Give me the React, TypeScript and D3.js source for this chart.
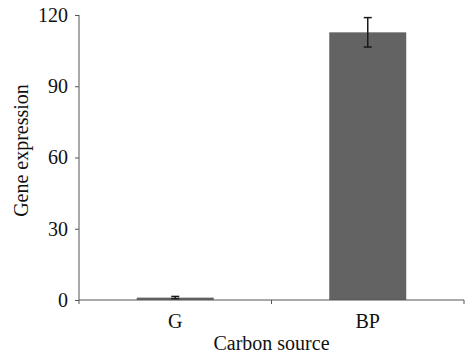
import React, { useRef, useEffect } from "react"
import * as d3 from "d3"

const categories = ["G", "BP"]
const values = [1, 112.7]
const errors = [0.5, 6.2]
const yTicks = [0, 30, 60, 90, 120]

const WIDTH = 472
const HEIGHT = 354
const MARGIN = { top: 15, right: 8, bottom: 54, left: 79 }
const FONT = "'Liberation Serif', 'Times New Roman', serif"
const FS = 20

export default function App() {
  const svgRef = useRef<SVGSVGElement>(null)

  useEffect(() => {
    const svg = svgRef.current
    if (!svg) return
    d3.select(svg).selectAll("*").remove()

    const innerW = WIDTH - MARGIN.left - MARGIN.right
    const innerH = HEIGHT - MARGIN.top - MARGIN.bottom

    const root = d3
      .select(svg)
      .append("g")
      .attr("transform", `translate(${MARGIN.left},${MARGIN.top})`)

    const x = d3.scaleBand().domain(categories).range([0, innerW]).paddingInner(0).paddingOuter(0)
    const y = d3.scaleLinear().domain([0, 120]).range([innerH, 0])
    const barW = x.bandwidth() * 0.4

    // bars
    root
      .selectAll(".bar")
      .data(categories)
      .join("rect")
      .attr("class", "bar")
      .attr("x", (d) => x(d)! + (x.bandwidth() - barW) / 2)
      .attr("y", (_, i) => y(values[i]))
      .attr("width", barW)
      .attr("height", (_, i) => innerH - y(values[i]))
      .attr("fill", "#636363")

    // error bars
    const eg = root.append("g").attr("stroke", "#1a1a1a").attr("stroke-width", 1.5)
    categories.forEach((c, i) => {
      const cx = x(c)! + x.bandwidth() / 2
      const top = y(values[i] + errors[i])
      const bot = y(values[i] - errors[i])
      eg.append("line").attr("x1", cx).attr("x2", cx).attr("y1", top).attr("y2", bot)
      eg.append("line").attr("x1", cx - 4).attr("x2", cx + 4).attr("y1", top).attr("y2", top)
      eg.append("line").attr("x1", cx - 4).attr("x2", cx + 4).attr("y1", bot).attr("y2", bot)
    })

    // y axis
    root
      .append("g")
      .call(d3.axisLeft(y).tickValues(yTicks).tickSize(4).tickPadding(7).tickFormat(d3.format("d")))
      .call((g) => g.select(".domain").attr("stroke", "#555").attr("d", `M0,${innerH + 4}V0`))
      .call((g) => g.selectAll(".tick line").attr("stroke", "#555"))
      .call((g) =>
        g.selectAll("text").attr("fill", "#111").attr("font-size", FS).attr("font-family", FONT)
      )

    // x axis: ticks at category boundaries
    const xg = root.append("g").attr("transform", `translate(0,${innerH})`)
    xg.append("line").attr("x1", 0).attr("x2", innerW).attr("stroke", "#555")
    xg
      .selectAll(".xtick")
      .data(categories)
      .join("line")
      .attr("class", "xtick")
      .attr("x1", (d) => x(d)! + x.bandwidth())
      .attr("x2", (d) => x(d)! + x.bandwidth())
      .attr("y1", 0)
      .attr("y2", 4)
      .attr("stroke", "#555")
    xg
      .selectAll(".xlabel")
      .data(categories)
      .join("text")
      .attr("class", "xlabel")
      .attr("x", (d) => x(d)! + x.bandwidth() / 2)
      .attr("y", 28)
      .attr("text-anchor", "middle")
      .attr("fill", "#111")
      .attr("font-size", FS)
      .attr("font-family", FONT)
      .text((d) => d)

    // axis titles
    root
      .append("text")
      .attr("x", innerW / 2)
      .attr("y", innerH + 50)
      .attr("text-anchor", "middle")
      .attr("fill", "#111")
      .attr("font-size", FS)
      .attr("font-family", FONT)
      .text("Carbon source")

    root
      .append("text")
      .attr("transform", `translate(${-MARGIN.left + 28},${innerH / 2 - 7}) rotate(-90)`)
      .attr("text-anchor", "middle")
      .attr("fill", "#111")
      .attr("font-size", FS)
      .attr("font-family", FONT)
      .text("Gene expression")
  }, [])

  return (
    <div style={{ position: "absolute", left: 0, top: 0 }}>
      <svg ref={svgRef} width={WIDTH} height={HEIGHT} style={{ display: "block", background: "#fff" }} />
    </div>
  )
}
